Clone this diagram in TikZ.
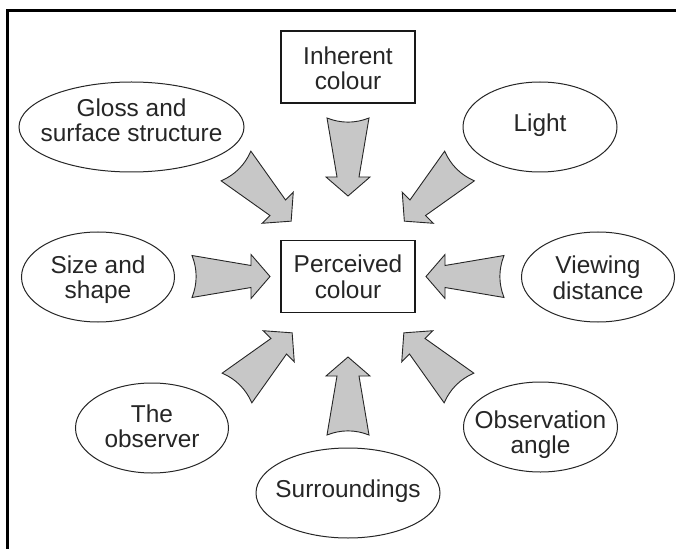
\documentclass[tikz,border=0pt]{standalone}
\usepackage{fontspec}
\setmainfont{Liberation Sans}
\usetikzlibrary{shapes.geometric,calc}
\begin{document}
\begin{tikzpicture}[x=1bp,y=-1bp,
  every node/.style={font=\fontsize{24.5}{25.5}\selectfont, text=black!85,
    align=center, inner sep=0pt},
  % lift=<2 x distance of the last baseline below the node centre>
  lift/.style={text height=#1, text depth=0pt},
  factor/.style={ellipse, draw=black!85, line width=1bp, inner sep=-15bp,
    minimum height=90bp},
  boxed/.style={rectangle, draw=black!90, line width=1.8bp,
    minimum width=134bp, minimum height=72bp},
  arrowfill/.style={fill=black!22, draw=black!85, line width=0.9bp, line join=miter},
  blockarrow/.pic={
    \path[arrowfill] (0,21) .. controls (5.5,7) and (5.5,-7) .. (0,-21)
      -- (59,-11) -- (59,-22) -- (78,0) -- (59,22) -- (59,11) -- cycle;
  }
]
% canvas
\useasboundingbox (0,0) rectangle (676,549);
\fill[white] (0,0) rectangle (676,549);
% frame lines (top and left)
\draw[line width=2.5bp, black] (676,10.5) -- (7.5,10.5) -- (7.5,549);

% central box and the factors around it
\node[boxed, lift=43bp] (pc) at (348,276.5) {Perceived\\colour};
\node[boxed, lift=45bp] (ic) at (348,67) {Inherent\\colour};
\node[factor, minimum width=225bp, lift=30bp] (gloss) at (131.5,127) {Gloss and\\surface structure};
\node[factor, minimum width=154bp, lift=9bp] (light) at (540,127) {Light};
\node[factor, minimum width=153bp, lift=43bp] (size) at (98,277) {Size and\\shape};
\node[factor, minimum width=153bp, lift=44bp] (view) at (598,277) {Viewing\\distance};
\node[factor, minimum width=153bp, lift=39bp] (obs) at (152,428) {The\\observer};
\node[factor, minimum width=184bp, lift=8bp] (surr) at (348,493) {Surroundings};
\node[factor, minimum width=154bp, lift=53bp] (angle) at (540.5,427) {Observation\\angle};

% block arrows pointing at the central box
\pic[rotate=-90] at ($(pc)+(0,-158.5)$) {blockarrow};
\pic[rotate=90] at ($(pc)+(0,158.5)$) {blockarrow};
\pic[rotate=0] at ($(pc)+(-156,0)$) {blockarrow};
\pic[rotate=180] at ($(pc)+(156,0)$) {blockarrow};
\pic[rotate=-45] at ($(pc)+(-112,-110.5)$) {blockarrow};
\pic[rotate=-135] at ($(pc)+(111.5,-110.5)$) {blockarrow};
\pic[rotate=45] at ($(pc)+(-111,111.5)$) {blockarrow};
\pic[rotate=135] at ($(pc)+(111,111.5)$) {blockarrow};
\end{tikzpicture}
\end{document}
